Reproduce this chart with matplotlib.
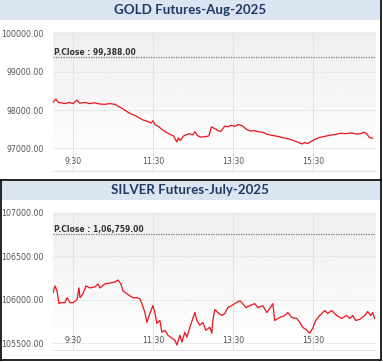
import numpy as np
import matplotlib
matplotlib.use("Agg")
import matplotlib.pyplot as plt
from matplotlib.patches import Rectangle
from matplotlib.lines import Line2D

# minutes after 9:00 and prices
gold_min = [0, 4, 8, 12, 18, 24, 30, 36, 40, 48, 55, 62, 70, 78, 85, 93, 100, 106,
            111, 117, 123, 129, 135, 141, 147, 150, 153, 159, 165, 170, 176, 181,
            186, 188, 191, 196, 200, 205, 210, 213, 217, 222, 228, 234, 238, 242,
            248, 252, 258, 262, 268, 273, 278, 284, 290, 296, 302, 308, 315, 322,
            328, 334, 340, 346, 352, 358, 364, 370, 374, 378, 382, 387, 393, 400,
            408, 416, 424, 432, 440, 448, 456, 462, 467, 471, 475, 480]
gold_val = [98200, 98290, 98200, 98190, 98170, 98200, 98170, 98260, 98180, 98200,
            98170, 98190, 98160, 98150, 98170, 98150, 98080, 98020, 97960, 97900,
            97860, 97800, 97740, 97710, 97660, 97720, 97620, 97560, 97470, 97420,
            97360, 97320, 97160, 97270, 97200, 97320, 97350, 97380, 97350, 97430,
            97330, 97290, 97300, 97320, 97560, 97520, 97460, 97440, 97580, 97560,
            97600, 97570, 97620, 97590, 97500, 97450, 97460, 97430, 97420, 97360,
            97340, 97320, 97300, 97270, 97250, 97220, 97180, 97140, 97110, 97150,
            97120, 97170, 97230, 97280, 97310, 97340, 97360, 97390, 97380, 97400,
            97370, 97380, 97420, 97380, 97280, 97260]

silver_min = [0, 3, 6, 9, 12, 18, 21, 25.5, 30, 36, 39, 40.5, 45, 49.5, 55.5, 63,
              67.5, 70.5, 78, 85.5, 93, 97.5, 102, 105, 111, 115.5, 120, 126, 130.5,
              133.5, 138, 141, 145.5, 150, 153, 156, 160.5, 163.5, 168, 172.5, 178.5,
              183, 186, 190.5, 193.5, 198, 201, 205.5, 210, 213, 216, 220.5, 225,
              229.5, 235.5, 238.5, 240, 243, 247.5, 253.5, 258, 262.5, 268.5, 273,
              280.5, 285, 289.5, 295.5, 303, 307.5, 315, 321, 325.5, 330, 333, 340.5,
              348, 352.5, 358.5, 366, 370.5, 375, 381, 385.5, 390, 394.5, 400.5, 408,
              412.5, 418.5, 426, 433.5, 441, 445.5, 450, 454.5, 460.5, 468, 472.5,
              477, 480, 483]
silver_val = [106080, 106159, 106102, 105955, 105966, 105966, 106023, 105966, 105966,
              106000, 106136, 106023, 106068, 106159, 106136, 106148, 106182, 106136,
              106182, 106193, 106204, 106227, 106182, 106102, 106068, 106045, 106023,
              106023, 106011, 105955, 105852, 105739, 105841, 105932, 105852, 105727,
              105761, 105625, 105648, 105591, 105557, 105534, 105477, 105591, 105512,
              105625, 105568, 105682, 105784, 105852, 105761, 105705, 105739, 105648,
              105682, 105614, 105761, 105886, 105852, 105818, 105841, 105909, 105932,
              105955, 105989, 105955, 105909, 105932, 105955, 105909, 105932, 105852,
              105898, 105955, 105761, 105795, 105818, 105852, 105795, 105784, 105739,
              105682, 105648, 105614, 105671, 105761, 105818, 105875, 105841, 105875,
              105818, 105784, 105818, 105784, 105818, 105761, 105773, 105818, 105864,
              105818, 105852, 105784]

xtick_min = [30, 150, 270, 390]
xtick_lab = ["9:30", "11:30", "13:30", "15:30"]

panels = [
    dict(title="GOLD Futures-Aug-2025", x=gold_min, y=gold_val, pclose=99388,
         pclose_txt="P.Close : 99,388.00", ylim=(96400, 100050),
         yticks=[97000, 98000, 99000, 100000], bar=(0, 20), box=(32, 171)),
    dict(title="SILVER Futures-July-2025", x=silver_min, y=silver_val, pclose=106759,
         pclose_txt="P.Close : 1,06,759.00", ylim=(105420, 107000),
         yticks=[105500, 106000, 106500, 107000], bar=(181, 200), box=(213, 350)),
]

W, H = 383, 362
fig = plt.figure(figsize=(W / 100, H / 100), dpi=100)
fig.patch.set_facecolor("white")

def fy(py):
    return 1 - py / H

for p in panels:
    # title bar
    b0, b1 = p["bar"]
    fig.patches.append(Rectangle((0, fy(b1)), 380 / W, (b1 - b0) / H,
                                 transform=fig.transFigure, facecolor="#dbe5f2",
                                 edgecolor="none", zorder=0))
    fig.text(190 / W, fy((b0 + b1) / 2), p["title"], ha="center", va="center",
             fontsize=9.6, fontweight="bold", color="#1f3864", family="Lato")

    t, bt = p["box"]
    ax = fig.add_axes([53 / W, fy(bt), 323 / W, (bt - t) / H])
    grad = np.linspace(0.935, 1.0, 100).reshape(-1, 1)
    ax.imshow(grad, extent=[0, 1, 0, 1], transform=ax.transAxes, cmap="gray",
              vmin=0, vmax=1, aspect="auto", zorder=0)
    ax.set_xlim(0, 485)
    ax.set_ylim(*p["ylim"])
    for xt in xtick_min:
        ax.axvline(xt, color="#e2e2e2", lw=0.7, zorder=1)
    for yt in p["yticks"]:
        ax.axhline(yt, color="#e8e8e8", lw=0.7, zorder=1)
    ax.axhline(p["pclose"], color="#777777", lw=0.9, ls=(0, (1, 1)), zorder=2)
    ax.text(2, p["pclose"], p["pclose_txt"], fontsize=5.5, color="#333333",
            va="bottom", ha="left", fontweight="bold", zorder=3)
    ax.plot(p["x"], p["y"], color="#e8141c", lw=0.9, zorder=4)
    for xt, lab in zip(xtick_min, xtick_lab):
        ax.text(xt, 0.035, lab, transform=ax.get_xaxis_transform(), ha="center",
                va="bottom", fontsize=5.6, color="#555555")
    ax.set_xticks([])
    ax.set_yticks(p["yticks"])
    ax.set_yticklabels([f"{v}.00" for v in p["yticks"]])
    ax.tick_params(axis="y", length=0, pad=6.5, labelsize=5.7, labelcolor="#555555")
    for s in ["top", "left", "right"]:
        ax.spines[s].set_visible(False)
    ax.spines["bottom"].set_color("#dde3ee")
    ax.spines["bottom"].set_linewidth(0.8)

# panel borders
lw = 1.2
fig.lines.append(Line2D([380.5 / W, 380.5 / W], [fy(0), fy(360)], color="black",
                        lw=lw, transform=fig.transFigure))
fig.lines.append(Line2D([0, 381 / W], [fy(179.5), fy(179.5)], color="black",
                        lw=lw, transform=fig.transFigure))
fig.lines.append(Line2D([0.6 / W, 0.6 / W], [fy(179.5), fy(359.5)], color="black",
                        lw=lw, transform=fig.transFigure))
fig.lines.append(Line2D([0, 381 / W], [fy(359.5), fy(359.5)], color="black",
                        lw=lw, transform=fig.transFigure))

fig.savefig("out.png", dpi=100)
